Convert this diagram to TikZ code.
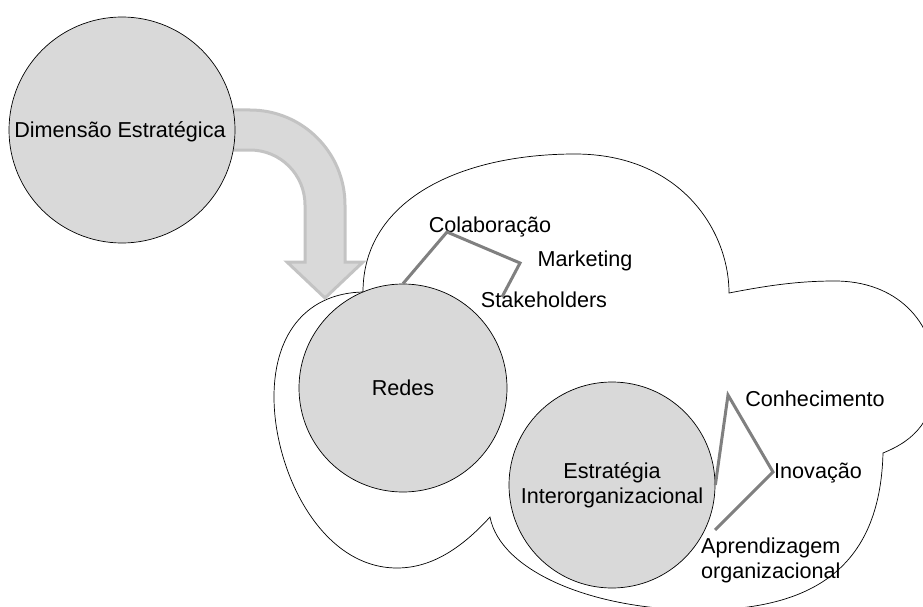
\documentclass[tikz,border=0pt]{standalone}
\usepackage{fontspec}
\setmainfont{Liberation Sans}
\definecolor{bubblegray}{HTML}{D9D9D9}
\definecolor{arrowedge}{HTML}{C3C3C3}
\definecolor{linkgray}{HTML}{808080}
\newcommand\lblfont{\fontsize{21.6}{25}\selectfont}
\begin{document}
\begin{tikzpicture}[x=1pt,y=-1pt,
  bubble/.style={circle,draw=black,line width=0.7pt,fill=bubblegray,
    inner sep=0pt,align=center,font=\lblfont},
  word/.style={inner sep=0pt,font=\lblfont,anchor=base},
  link/.style={draw=linkgray,line width=3pt,line join=miter},
  cloudline/.style={draw=black,line width=0.7pt,fill=white,line join=miter},
  bigarrow/.style={draw=arrowedge,line width=3pt,fill=bubblegray,line join=miter}]
\useasboundingbox (0,0) rectangle (923,607);
\clip (0,0) rectangle (923,607);

% cloud outline holding the two inner bubbles
\path[cloudline]
  (363,292) .. controls (363,200) and (460,154) .. (575,154)
  .. controls (680,154) and (729,230) .. (729,293)
  .. controls (770,285) and (800,281) .. (835,281)
  .. controls (895,281) and (935,320) .. (935,375)
  .. controls (935,420) and (915,440) .. (883,453)
  .. controls (880,570) and (810,610) .. (700,610)
  .. controls (590,610) and (500,570) .. (490,517)
  .. controls (460,550) and (430,568) .. (397,568)
  .. controls (320,568) and (274,470) .. (274,397)
  .. controls (274,330) and (310,293) .. (363,292) -- cycle;

% curved block arrow
\path[bigarrow]
  (226,110) -- (250,110)
  .. controls (302.5,110) and (345,152.5) .. (345,205)
  -- (345,262) -- (363,262) -- (325,298) -- (287,262) -- (305,262)
  -- (305,205)
  .. controls (305,174.6) and (280.4,150) .. (250,150)
  -- (226,150) -- cycle;

% bubbles
\node[bubble,minimum size=226pt] (dim) at (122,130) {};
\node[word] (dimtxt) at (120,137) {Dimensão Estratégica};
\node[bubble,minimum size=208pt] (redes) at (403,388) {};
\node[word] (redestxt) at (403,395) {Redes};
\node[bubble,minimum size=206pt] (estr) at (612,485) {Estratégia\\Interorganizacional};

% labels
\node[word] (colab) at (490,232) {Colaboração};
\node[word] (mkt) at (585,266) {Marketing};
\node[word] (stake) at (544,307) {Stakeholders};
\node[word] (conh) at (815,406) {Conhecimento};
\node[word] (inov) at (818,478) {Inovação};
\node[inner sep=0pt,font=\lblfont,align=left,anchor=west] (apren) at (701,560)
  {Aprendizagem\\organizacional};

% bracket connectors
\coordinate (c1) at (447,232);
\coordinate (c2) at (520,263);
\coordinate (c3) at (502,297);
\draw[link] (redes.north) -- (c1) -- (c2) -- (c3);
\coordinate (e1) at (728,395);
\coordinate (e2) at (773,472);
\coordinate (e3) at (715,530);
\draw[link] (estr.east) -- (e1) -- (e2) -- (e3);
\end{tikzpicture}
\end{document}
